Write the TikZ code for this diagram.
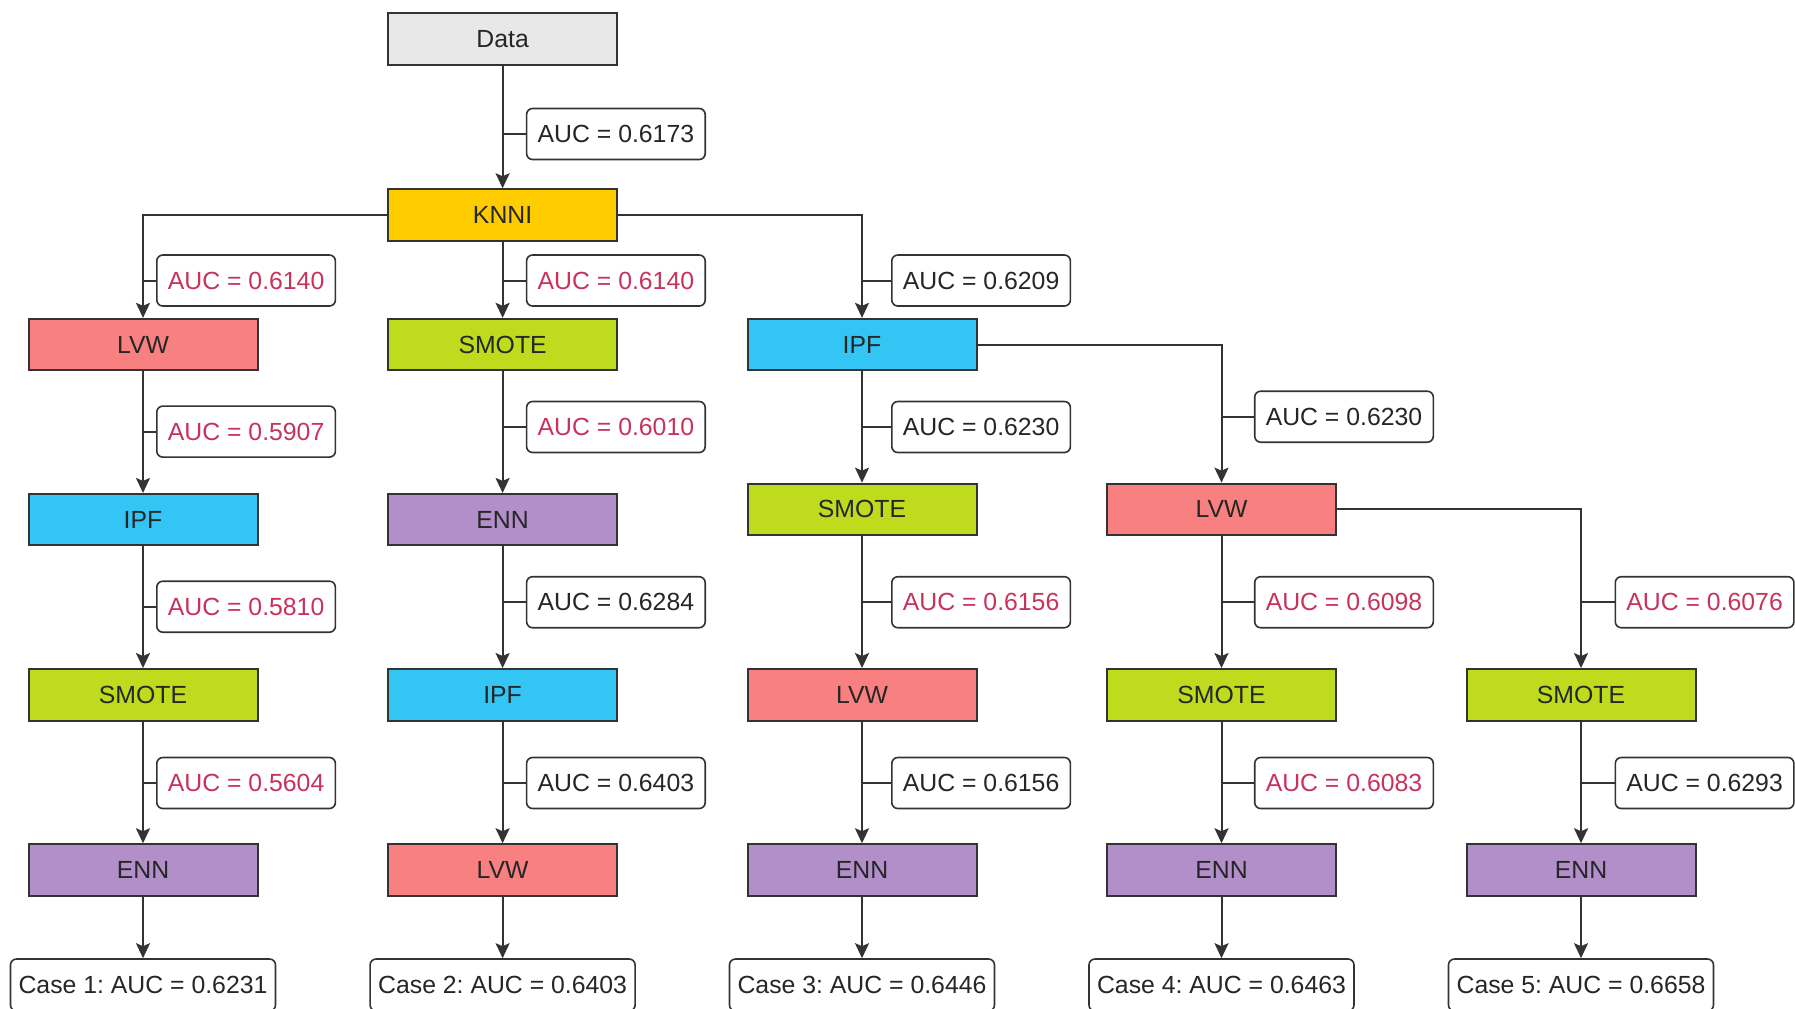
\documentclass[tikz,border=0pt]{standalone}
\usepackage{fontspec}
\setmainfont{Liberation Sans}
\usetikzlibrary{arrows.meta}
\definecolor{cData}{HTML}{E8E8E8}
\definecolor{cKNNI}{HTML}{FFCC00}
\definecolor{cLVW}{HTML}{F88080}
\definecolor{cSMOTE}{HTML}{BEDB1E}
\definecolor{cIPF}{HTML}{33C6F4}
\definecolor{cENN}{HTML}{B38FCA}
\definecolor{cRed}{HTML}{C8325C}
\definecolor{cLine}{HTML}{333333}
\begin{document}
\frenchspacing
\begin{tikzpicture}[x=0.5pt,y=-0.5pt,
  box/.style={draw=cLine, line width=1pt, minimum width=114.5pt, minimum height=25.75pt, inner sep=0pt, font=\fontsize{12.4}{14}\selectfont, text=black!85},
  lbl/.style={draw=cLine, line width=0.8pt, rounded corners=3pt, fill=white, minimum width=89.3pt, minimum height=25.5pt, inner sep=0pt, font=\fontsize{12.4}{14}\selectfont\frenchspacing, text=black!85},
  red/.style={text=cRed},
  casebox/.style={lbl, minimum width=132.5pt, minimum height=26pt},
  arr/.style={draw=cLine, line width=1pt, -{Stealth[length=7.5pt,width=7pt,inset=1.5pt]}},
  tick/.style={draw=cLine, line width=1pt}]
\useasboundingbox (0,0) rectangle (1795,1008);
% main nodes
\node[box, fill=cData] (data) at (502.6,39) {Data};
\node[box, fill=cKNNI] (knni) at (502.6,215) {KNNI};
% column 1
\node[box, fill=cLVW] (a1) at (143,344.6) {LVW};
\node[box, fill=cIPF] (a2) at (143,519.7) {IPF};
\node[box, fill=cSMOTE] (a3) at (143,694.8) {SMOTE};
\node[box, fill=cENN] (a4) at (143,870) {ENN};
% column 2
\node[box, fill=cSMOTE] (b1) at (502.6,344.6) {SMOTE};
\node[box, fill=cENN] (b2) at (502.6,519.7) {ENN};
\node[box, fill=cIPF] (b3) at (502.6,694.8) {IPF};
\node[box, fill=cLVW] (b4) at (502.6,870) {LVW};
% column 3
\node[box, fill=cIPF] (c1) at (862,344.6) {IPF};
\node[box, fill=cSMOTE] (c2) at (862,509.4) {SMOTE};
\node[box, fill=cLVW] (c3) at (862,694.8) {LVW};
\node[box, fill=cENN] (c4) at (862,870) {ENN};
% column 4
\node[box, fill=cLVW] (d2) at (1221.5,509.4) {LVW};
\node[box, fill=cSMOTE] (d3) at (1221.5,694.8) {SMOTE};
\node[box, fill=cENN] (d4) at (1221.5,870) {ENN};
% column 5
\node[box, fill=cSMOTE] (e3) at (1581,694.8) {SMOTE};
\node[box, fill=cENN] (e4) at (1581,870) {ENN};
% cases
\node[casebox] (k1) at (143,985) {Case 1: AUC = 0.6231};
\node[casebox] (k2) at (502.6,985) {Case 2: AUC = 0.6403};
\node[casebox] (k3) at (862,985) {Case 3: AUC = 0.6446};
\node[casebox] (k4) at (1221.5,985) {Case 4: AUC = 0.6463};
\node[casebox] (k5) at (1581,985) {Case 5: AUC = 0.6658};
% connectors
\draw[arr] (data) -- (knni);
\draw[arr] (knni.west) -| (a1.north);
\draw[arr] (knni) -- (b1);
\draw[arr] (knni.east) -| (c1.north);
\draw[arr] (a1) -- (a2);
\draw[arr] (a2) -- (a3);
\draw[arr] (a3) -- (a4);
\draw[arr] (a4) -- (k1);
\draw[arr] (b1) -- (b2);
\draw[arr] (b2) -- (b3);
\draw[arr] (b3) -- (b4);
\draw[arr] (b4) -- (k2);
\draw[arr] (c1) -- (c2);
\draw[arr] (c2) -- (c3);
\draw[arr] (c3) -- (c4);
\draw[arr] (c4) -- (k3);
\draw[arr] (c1.east) -| (d2.north);
\draw[arr] (d2) -- (d3);
\draw[arr] (d3) -- (d4);
\draw[arr] (d4) -- (k4);
\draw[arr] (d2.east) -| (e3.north);
\draw[arr] (e3) -- (e4);
\draw[arr] (e4) -- (k5);
% labels
\node[lbl] (l0) at (615.9,134) {AUC = 0.6173};
\node[lbl, red] (la1) at (246.1,280.5) {AUC = 0.6140};
\node[lbl, red] (la2) at (246.1,431.6) {AUC = 0.5907};
\node[lbl, red] (la3) at (246.1,606.7) {AUC = 0.5810};
\node[lbl, red] (la4) at (246.1,783) {AUC = 0.5604};
\node[lbl, red] (lb1) at (615.9,280.5) {AUC = 0.6140};
\node[lbl, red] (lb2) at (615.9,427) {AUC = 0.6010};
\node[lbl] (lb3) at (615.9,602.2) {AUC = 0.6284};
\node[lbl] (lb4) at (615.9,783) {AUC = 0.6403};
\node[lbl] (lc1) at (981.1,280.5) {AUC = 0.6209};
\node[lbl] (lc2) at (981.1,427) {AUC = 0.6230};
\node[lbl, red] (lc3) at (981.1,602.2) {AUC = 0.6156};
\node[lbl] (lc4) at (981.1,783) {AUC = 0.6156};
\node[lbl] (ld2) at (1344,416.7) {AUC = 0.6230};
\node[lbl, red] (ld3) at (1344,602.2) {AUC = 0.6098};
\node[lbl, red] (ld4) at (1344,783) {AUC = 0.6083};
\node[lbl, red] (le3) at (1704.6,602.2) {AUC = 0.6076};
\node[lbl] (le4) at (1704.6,783) {AUC = 0.6293};
% ticks
\foreach \l/\n in {l0/data, la1/a1, la2/a1, la3/a2, la4/a3, lb1/b1, lb2/b1, lb3/b2, lb4/b3, lc1/c1, lc2/c1, lc3/c2, lc4/c3, ld2/d2, ld3/d2, ld4/d3, le3/e3, le4/e3}
  \draw[tick] (\l.west) -- (\l.west -| \n.south);
\end{tikzpicture}
\end{document}
